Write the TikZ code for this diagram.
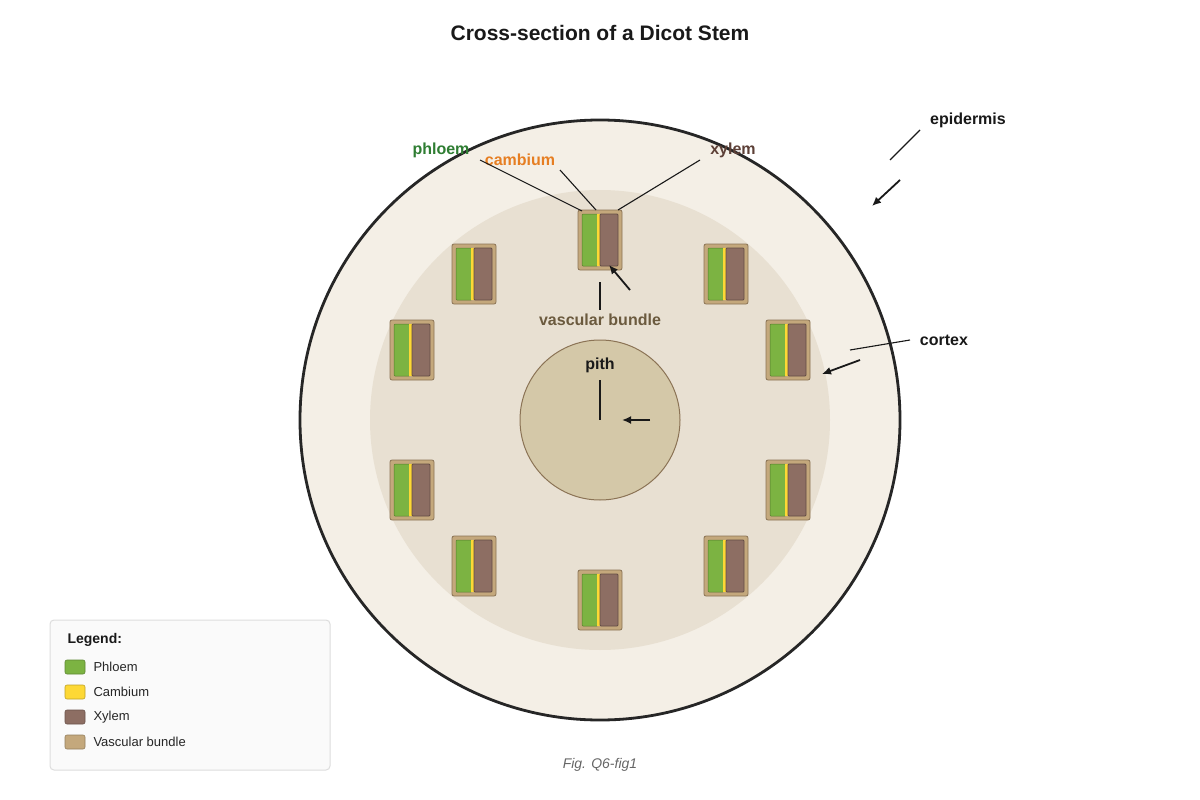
\documentclass[tikz,border=0pt]{standalone}
\usepackage{fontspec}
\setmainfont{Liberation Sans}
\usetikzlibrary{arrows.meta}
\definecolor{phl}{HTML}{7CB342}
\definecolor{cam}{HTML}{FDD835}
\definecolor{xyl}{HTML}{8D6E63}
\definecolor{vb}{HTML}{C4A87C}
\definecolor{vbs}{HTML}{8B7355}
\begin{document}
\begin{tikzpicture}[x=1pt,y=-1pt,
 lbl/.style={font=\bfseries\fontsize{16}{18}\selectfont},
 lead/.style={draw=black!90,line width=1.1pt},
 arr/.style={draw=black!90,line width=1.8pt,-{Latex[length=9pt,width=8pt]}},
 leg/.style={font=\fontsize{13}{15}\selectfont,anchor=west,text=black!85},
 sw/.style={rounded corners=2pt,line width=0.8pt}]
\useasboundingbox (0,0) rectangle (1200,800);
\fill[white] (0,0) rectangle (1200,800);
\node[font=\bfseries\fontsize{21}{24}\selectfont,text=black!90] (title) at (600,33) {Cross-section of a Dicot Stem};
\node[circle,draw=black!85,line width=2.8pt,fill={rgb,255:red,244;green,239;blue,230},minimum size=600pt,inner sep=0] (epi) at (600,420) {};
\node[circle,fill={rgb,255:red,232;green,224;blue,210},minimum size=460pt,inner sep=0] (cor) at (600,420) {};
\node[circle,draw=vbs,line width=1pt,fill={rgb,255:red,212;green,200;blue,168},minimum size=160pt,inner sep=0] (pith) at (600,420) {};
\foreach \x/\y [count=\i] in {578/210,452/244,704/244,390/320,766/320,390/460,766/460,452/536,704/536,578/570}{
 \draw[sw,fill=vb,draw=vbs] (\x,\y) rectangle ++(44,60);
 \draw[rounded corners=1pt,fill=phl,draw=phl!70!black,line width=0.5pt] (\x+4,\y+4) rectangle ++(16,52);
 \fill[cam] (\x+19,\y+4) rectangle ++(3,52);
 \draw[rounded corners=1pt,fill=xyl,draw=xyl!70!black,line width=0.8pt] (\x+22,\y+4) rectangle ++(18,52);
 \coordinate (b\i) at (\x+22,\y);
}
\node[lbl,text={rgb,255:red,46;green,125;blue,50}] (lphl) at (441,150) {phloem};
\node[lbl,text={rgb,255:red,230;green,126;blue,34}] (lcam) at (520,160) {cambium};
\node[lbl,text={rgb,255:red,93;green,64;blue,55}] (lxyl) at (733,150) {xylem};
\node[lbl,text=black!90] (lepi) at (968,120) {epidermis};
\node[lbl,text=black!90] (lcor) at (944,340) {cortex};
\node[lbl,text={rgb,255:red,107;green,90;blue,62}] (lvb) at (600,320) {vascular bundle};
\node[lbl,text=black!90] (lpith) at (600,365) {pith};
\coordinate (p1) at (480,160); \coordinate (p2) at (582,211);
\coordinate (c1) at (560,170); \coordinate (c2) at (596,210);
\coordinate (x1) at (700,160); \coordinate (x2) at (618,210);
\draw[lead] (p1)--(p2); \draw[lead] (c1)--(c2); \draw[lead] (x1)--(x2);
\coordinate (v1) at (600,282); \coordinate (v2) at (600,310);
\coordinate (va) at (630,290); \coordinate (vb2) at (609,265);
\draw[lead] (v1)--(v2); \draw[arr] (va)--(vb2);
\coordinate (q1) at (600,380); \coordinate (q2) at (600,420);
\coordinate (qa) at (650,420); \coordinate (qb) at (622,420);
\draw[lead] (q1)--(q2); \draw[arr] (qa)--(qb);
\coordinate (e1) at (920,130); \coordinate (e2) at (890,160);
\coordinate (ea) at (900,180); \coordinate (eb) at (872,206);
\draw[lead] (e1)--(e2); \draw[arr] (ea)--(eb);
\coordinate (k1) at (910,340); \coordinate (k2) at (850,350);
\coordinate (ka) at (860,360); \coordinate (kb) at (822,374);
\draw[lead] (k1)--(k2); \draw[arr] (ka)--(kb);
\draw[rounded corners=4pt,fill={rgb,255:red,250;green,250;blue,250},draw={rgb,255:red,221;green,221;blue,221},line width=1pt] (50,620) rectangle (330,770);
\node[font=\bfseries\fontsize{14}{16}\selectfont,anchor=west,text=black!90] (lt) at (64,640) {Legend:};
\foreach \c/\t/\y in {phl/Phloem/667,cam/Cambium/692,xyl/Xylem/717,vb/Vascular bundle/742}{
 \draw[rounded corners=2pt,fill=\c,draw=\c!75!black,line width=0.6pt] (65,\y-7) rectangle ++(20,14);
 \node[leg] at (90,\y) {\t};
}
\node[font=\itshape\fontsize{14}{16}\selectfont,text=black!60] (cap) at (600,765) {Fig. Q6-fig1};
\end{tikzpicture}
\end{document}
